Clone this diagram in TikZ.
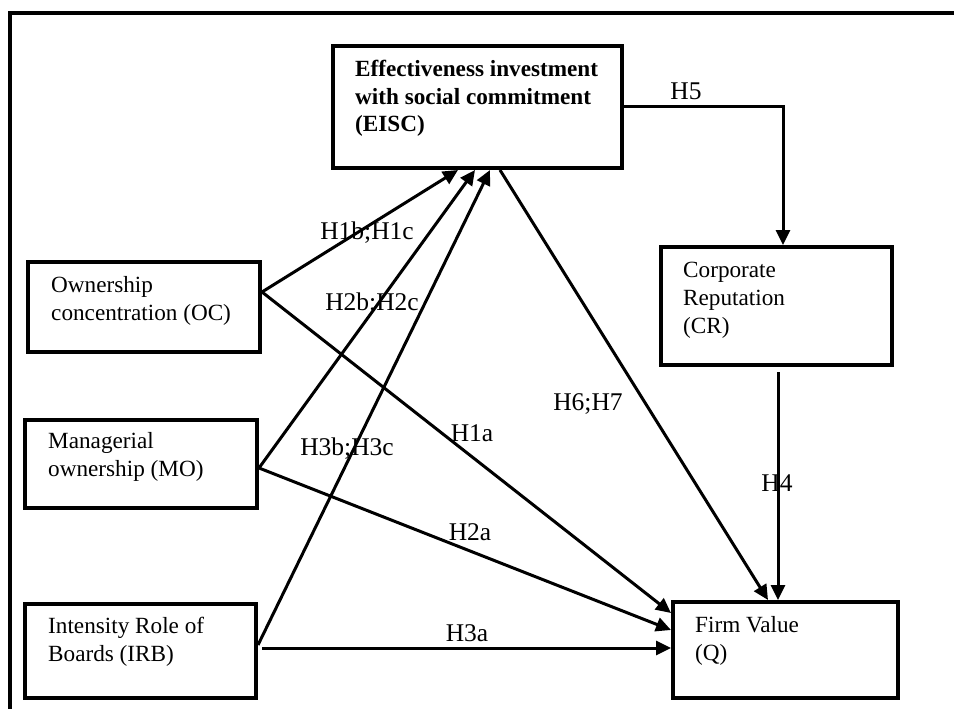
\documentclass[tikz,border=0pt]{standalone}
\usepackage{fontspec}
\setmainfont{Liberation Serif}
\usetikzlibrary{arrows.meta,calc}
\begin{document}
\begin{tikzpicture}[x=1pt,y=-1pt,
  box/.style={draw, line width=4pt, inner sep=0pt, fill=white},
  txt/.style={inner sep=0pt, align=left, anchor=west, font=\fontsize{23.2}{28}\selectfont},
  lbl/.style={inner sep=0pt, anchor=base, font=\fontsize{25.5}{28}\selectfont},
  arr/.style={line width=3pt, -{Triangle[length=15pt,width=14pt]}},
  conn/.style={line width=3pt}]
\useasboundingbox (0,0) rectangle (954,709);
% frame
\draw[line width=4pt] (954,13) -- (10,13) -- (10,709);
% boxes
\node[box, minimum width=289pt, minimum height=122pt] (eisc) at (477.5,107) {};
\node[box, minimum width=232pt, minimum height=90pt] (oc) at (144,307) {};
\node[box, minimum width=232pt, minimum height=88pt] (mo) at (141,464) {};
\node[box, minimum width=231pt, minimum height=94pt] (irb) at (140.5,651) {};
\node[box, minimum width=231pt, minimum height=118pt] (cr) at (776.5,306) {};
\node[box, minimum width=225pt, minimum height=96pt] (fv) at (785.5,650) {};
% box texts
\node[txt, font=\fontsize{23.2}{27.5}\selectfont\bfseries] (eisct) at (355,98.5) {Effectiveness investment\\with social commitment\\(EISC)};
\node[txt] (oct) at (51,301) {Ownership\\concentration (OC)};
\node[txt] (mot) at (48,457) {Managerial\\ownership (MO)};
\node[txt] (irbt) at (48,642) {Intensity Role of\\Boards (IRB)};
\node[txt] (crt) at (683,300) {Corporate\\Reputation\\(CR)};
\node[txt] (fvt) at (695,641) {Firm Value\\(Q)};
% connectors
\draw[arr] (eisc.east) -| ([xshift=6.5pt]cr.north);
\draw[arr] ([xshift=1.5pt,yshift=-5pt]cr.south) -- ([xshift=-7.5pt]fv.north);
\draw[arr] ([xshift=22.5pt]eisc.south) -- ([xshift=-17.5pt]fv.north);
\draw[arr] ([yshift=15pt]oc.east) -- ([xshift=-19.5pt]eisc.south);
\draw[arr] ([yshift=15pt]oc.east) -- ([yshift=37pt]fv.west);
\draw[arr] ([yshift=-4pt]mo.east) -- ([xshift=-2.5pt]eisc.south);
\draw[arr] ([yshift=-4pt]mo.east) -- ([yshift=20pt]fv.west);
\draw[arr] ([yshift=6pt]irb.east) -- ([xshift=12.5pt]eisc.south);
\draw[arr] ([xshift=4pt,yshift=3pt]irb.east) -- ([yshift=2pt]fv.west);
% labels
\node[lbl] (h5) at (686,99.5) {H5};
\node[lbl] (h4) at (777,491.5) {H4};
\node[lbl] (h67) at (588,410.5) {H6;H7};
\node[lbl] (h1bc) at (367,239.5) {H1b;H1c};
\node[lbl] (h2bc) at (372,310.5) {H2b;H2c};
\node[lbl] (h1a) at (472,441.5) {H1a};
\node[lbl] (h3bc) at (347,455.5) {H3b;H3c};
\node[lbl] (h2a) at (470,540.5) {H2a};
\node[lbl] (h3a) at (467,641.5) {H3a};
\end{tikzpicture}
\end{document}
